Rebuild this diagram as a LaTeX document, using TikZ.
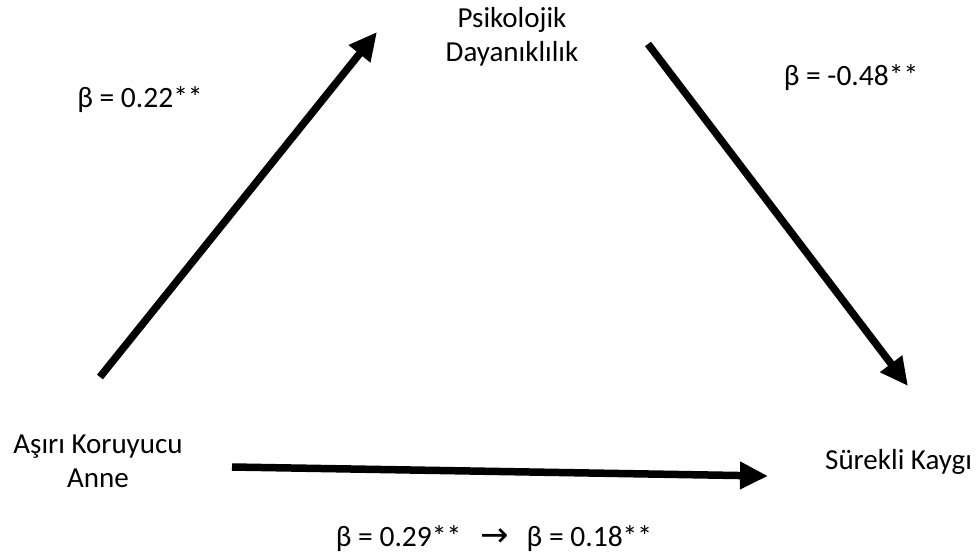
\documentclass[tikz,border=0pt]{standalone}
\usepackage{fontspec}
\setmainfont{Carlito}
\newfontfamily\symfont{DejaVu Sans}
\usetikzlibrary{arrows.meta, positioning}

\begin{document}
\begin{tikzpicture}[
  x=1pt, y=-1pt,
  label/.style={align=center, inner sep=0pt, font=\fontsize{29}{34}\selectfont},
  coef/.style={inner sep=0pt, font=\fontsize{29.5}{34}\selectfont},
  arrow/.style={-{Triangle[length=28pt, width=26pt]}, line width=7.5pt},
]
  \useasboundingbox (0,0) rectangle (980,557);

  \node[label] (resil) at (512,37) {Psikolojik\\Dayanıklılık};
  \node[label] (mother) at (98,461) {Aşırı Koruyucu\\Anne};
  \node[label, anchor=west] (anxiety) at (825,462) {Sürekli Kaygı};

  \node[coef] (b1) at (140,100) {β = 0.22**};
  \node[coef] (b2) at (851,78) {β = -0.48**};
  \node[coef] (b3) at (494,539) {β = 0.29**\hspace{19pt}{\symfont\fontsize{34}{34}\selectfont →}\hspace{18pt}β = 0.18**};

  \coordinate (a1s) at (100,377);
  \coordinate (a1e) at (377,32);
  \coordinate (a2s) at (648,44);
  \coordinate (a2e) at (908,386);
  \coordinate (a3s) at (232,467);
  \coordinate (a3e) at (768,476);

  \draw[arrow] (a1s) -- (a1e);
  \draw[arrow] (a2s) -- (a2e);
  \draw[arrow] (a3s) -- (a3e);

\end{tikzpicture}
\end{document}
